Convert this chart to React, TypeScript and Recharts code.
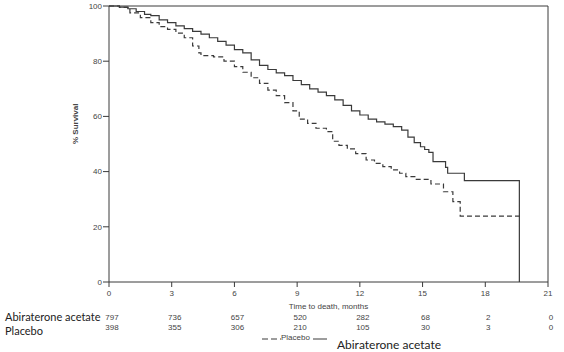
import React from 'react';
import { LineChart, Line, XAxis, YAxis, ReferenceLine } from 'recharts';

// Kaplan-Meier estimates
const abiMonths = [0, 0.5, 0.9, 1.3, 1.7, 2.0, 2.4, 2.8, 3.2, 3.6, 4.0, 4.4, 4.8, 5.2, 5.6, 6.0, 6.4, 6.8, 7.2, 7.6, 8.0, 8.4, 8.8, 9.2, 9.6, 10.0, 10.4, 10.8, 11.2, 11.6, 12.0, 12.4, 12.8, 13.2, 13.6, 14.0, 14.3, 14.6, 14.9, 15.1, 15.3, 15.5, 16.1, 16.2, 17.0, 19.63];
const abiSurvival = [100, 99.6, 99, 98, 97, 96.5, 95, 94, 92.8, 91.8, 90.8, 89.8, 88.5, 87.2, 85.8, 84.2, 83, 80.5, 78.5, 77, 75.8, 74.8, 73, 71.5, 70, 68.8, 67.5, 66, 64, 62, 60.5, 59, 58, 57.2, 56.3, 55, 52.5, 50.5, 49, 48, 47, 43.6, 41.5, 39.4, 36.7, 0];

const placeboMonths = [0, 0.5, 1.0, 1.5, 2.0, 2.4, 2.8, 3.2, 3.6, 4.0, 4.3, 4.4, 5.0, 5.5, 6.0, 6.4, 6.8, 7.2, 7.6, 8.0, 8.4, 8.8, 9.1, 9.5, 9.9, 10.4, 10.7, 11.0, 11.4, 11.8, 12.3, 12.7, 13.1, 13.5, 13.9, 14.2, 14.7, 15.4, 16.0, 16.45, 16.8, 19.8];
const placeboSurvival = [100, 99.5, 97.5, 95.8, 94, 92.5, 91.5, 90.2, 88.5, 85.5, 83, 82, 81.6, 80, 78, 76, 74, 72, 69.5, 67.5, 65, 62, 59, 57.5, 55.7, 54.5, 51, 49.5, 48.2, 46.5, 44.2, 43, 41.8, 40.6, 39.4, 38.2, 37.2, 35.5, 32.7, 29.1, 23.9, 23.9];

const monthTicks = [0, 3, 6, 9, 12, 15, 18, 21];
const survivalTicks = [0, 20, 40, 60, 80, 100];
const abiAtRisk = [797, 736, 657, 520, 282, 68, 2, 0];
const placeboAtRisk = [398, 355, 306, 210, 105, 30, 3, 0];

const abiData = abiMonths.map((t, i) => ({ t, s: abiSurvival[i] }));
const placeboData = placeboMonths.map((t, i) => ({ t, s: placeboSurvival[i] }));

const INK = '#3a3a3a';
const small = { fontFamily: 'Liberation Sans, Arial, sans-serif', fontSize: 8, fill: '#444' };
const big = 'Lato, sans-serif';

const MonthTick = (props: any) => {
  const { x, y, payload } = props;
  const i = monthTicks.indexOf(payload.value);
  return (
    <g>
      <text x={x} y={y + 7} textAnchor="middle" style={small}>{payload.value}</text>
      <text x={x + 3} y={y + 31} textAnchor="middle" style={small}>{abiAtRisk[i]}</text>
      <text x={x + 3} y={y + 41} textAnchor="middle" style={small}>{placeboAtRisk[i]}</text>
    </g>
  );
};

const KmLegend = () => (
  <div style={{ position: 'absolute', left: 262, top: 333, display: 'flex', alignItems: 'flex-start', fontFamily: 'Liberation Sans, Arial, sans-serif' }}>
    <svg width={19} height={8} style={{ marginTop: 2 }}>
      <line x1={0} y1={4} x2={19} y2={4} stroke={INK} strokeDasharray="6 3" />
    </svg>
    <span style={{ fontSize: 8, color: '#444', lineHeight: '10px' }}>Placebo</span>
    <svg width={16} height={8} style={{ marginLeft: 3, marginTop: 2 }}>
      <line x1={0} y1={4} x2={14} y2={4} stroke={INK} />
    </svg>
    <span style={{ fontFamily: big, fontSize: 12, color: '#222', marginLeft: 8, marginTop: 5, lineHeight: '14px' }}>Abiraterone acetate</span>
  </div>
);

export default function App() {
  return (
    <div style={{ position: 'absolute', left: 0, top: 0, width: 564, height: 352, background: '#fff' }}>
      <LineChart width={564} height={352} margin={{ top: 6, right: 16, bottom: 40, left: 79 }}>
        <XAxis
          dataKey="t"
          type="number"
          domain={[0, 21]}
          ticks={monthTicks}
          allowDuplicatedCategory={false}
          stroke={INK}
          tickSize={5}
          tickMargin={2}
          height={30}
          tick={<MonthTick />}
          label={{ value: 'Time to death, months', position: 'insideBottom', offset: 3, style: small }}
        />
        <YAxis
          type="number"
          domain={[0, 100]}
          ticks={survivalTicks}
          stroke={INK}
          tickSize={6}
          tickMargin={1}
          width={30}
          tick={small}
          label={{ value: '% Survival', angle: -90, position: 'insideLeft', offset: -4, style: { ...small, fontWeight: 'bold' } }}
        />
        <ReferenceLine y={100} stroke={INK} />
        <ReferenceLine x={21} stroke={INK} />
        <Line data={abiData} dataKey="s" name="Abiraterone acetate" type="stepAfter" stroke={INK} strokeWidth={1.2} dot={false} isAnimationActive={false} />
        <Line data={placeboData} dataKey="s" name="Placebo" type="stepAfter" stroke={INK} strokeWidth={1.2} strokeDasharray="5 3" dot={false} isAnimationActive={false} />
      </LineChart>
      <KmLegend />
      <div style={{ position: 'absolute', left: 5, top: 310, fontFamily: big, fontSize: 11, color: '#222', lineHeight: '14px' }}>
        <div>Abiraterone acetate</div>
        <div>Placebo</div>
      </div>
    </div>
  );
}
